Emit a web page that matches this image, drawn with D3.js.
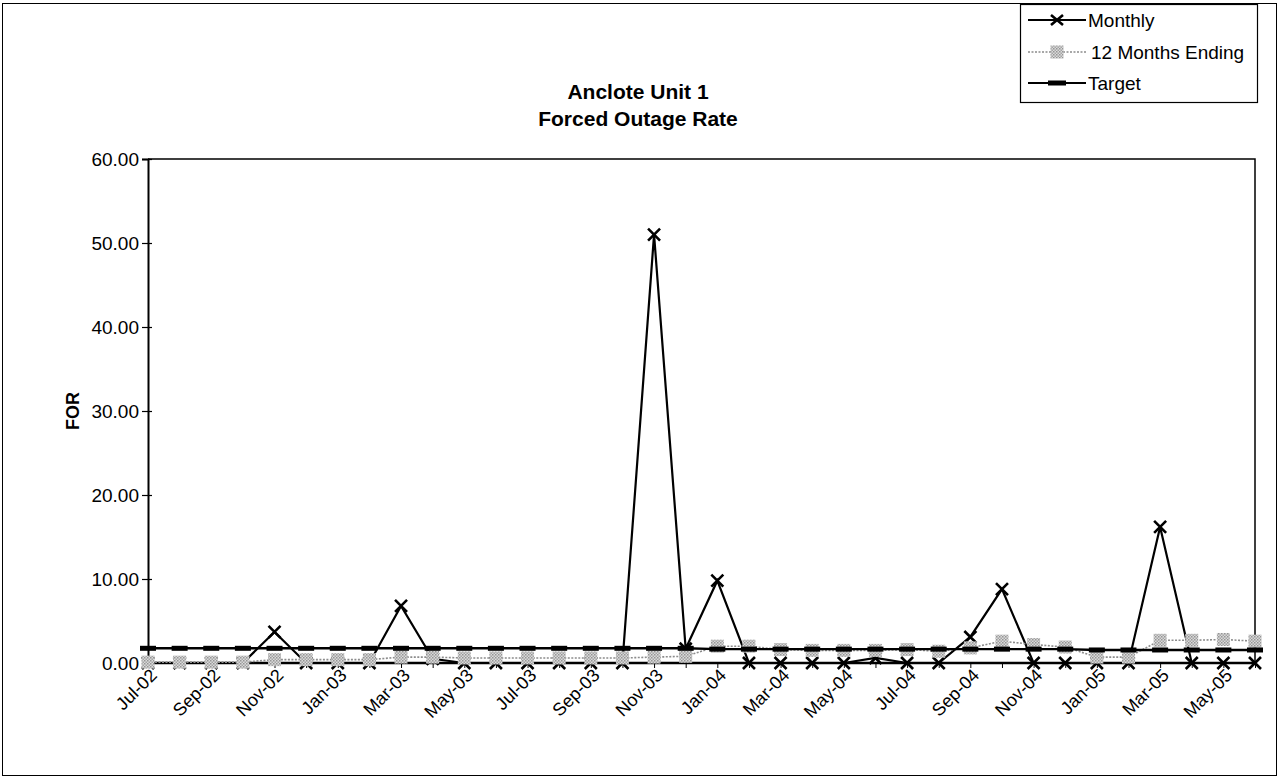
<!DOCTYPE html>
<html>
<head>
<meta charset="utf-8">
<script src="https://cdn.jsdelivr.net/npm/d3@7/dist/d3.min.js"></script>
<style>
  html, body { margin: 0; padding: 0; background: #fff; }
  svg { display: block; font-family: "Liberation Sans", Arial, sans-serif; }
</style>
</head>
<body>
<svg id="chart" width="1279" height="778"></svg>
<script>
const months = ["Jul-02","Aug-02","Sep-02","Oct-02","Nov-02","Dec-02",
  "Jan-03","Feb-03","Mar-03","Apr-03","May-03","Jun-03","Jul-03","Aug-03","Sep-03","Oct-03","Nov-03","Dec-03",
  "Jan-04","Feb-04","Mar-04","Apr-04","May-04","Jun-04","Jul-04","Aug-04","Sep-04","Oct-04","Nov-04","Dec-04",
  "Jan-05","Feb-05","Mar-05","Apr-05","May-05","Jun-05"];
const monthly = [0,0,0,0,3.7,0, 0,0,6.8,0.5,0,0,0,0,0,0,51.0,1.7, 9.8,0,0,0,0,0.6,0,0,3.1,8.8,0,0, 0,0,16.2,0,0,0];
const twelveMonths = [0.1,0.1,0.1,0.1,0.4,0.4, 0.4,0.4,0.7,0.7,0.6,0.6,0.6,0.6,0.6,0.6,0.7,0.8, 2.0,2.0,1.6,1.5,1.5,1.5,1.6,1.4,1.8,2.6,2.2,1.9, 0.7,0.7,2.7,2.7,2.8,2.6];
const target = [1.75,1.75,1.75,1.75,1.75,1.75, 1.75,1.75,1.75,1.75,1.75,1.75,1.75,1.75,1.75,1.75,1.75,1.75, 1.65,1.65,1.65,1.65,1.65,1.65,1.65,1.65,1.65,1.65,1.65,1.65, 1.55,1.55,1.55,1.55,1.55,1.55];
const yTicks = [0,10,20,30,40,50,60];
const xLabels = months.filter((m,i) => i % 2 === 0);
const titleLines = ["Anclote Unit 1", "Forced Outage Rate"];
const seriesNames = ["Monthly", "12 Months Ending", "Target"];

const svg = d3.select("#chart");
const L = 148, R = 1255, T = 159, B = 663;
const FONT = "Liberation Sans, Arial, sans-serif";

const x = d3.scalePoint().domain(months).range([L, R]);
const y = d3.scaleLinear().domain([0, 60]).range([B, T]);

// outer frame
svg.append("rect").attr("x", 2.5).attr("y", 3.5).attr("width", 1274).attr("height", 772)
  .attr("fill", "none").attr("stroke", "#000").attr("stroke-width", 1);

// title
svg.append("g").selectAll("text").data(titleLines).join("text")
  .attr("x", 638).attr("y", (d,i) => 99 + i * 27)
  .attr("text-anchor", "middle").attr("font-size", 21).attr("font-weight", "bold")
  .text(d => d);

// plot border (top, right)
svg.append("path")
  .attr("d", `M${L},${T}H${R}V${B}`)
  .attr("fill", "none").attr("stroke", "#000").attr("stroke-width", 1.5);

// y axis
const yAxis = d3.axisLeft(y).tickValues(yTicks).tickSize(6).tickFormat(d3.format(".2f"));
const yg = svg.append("g").attr("transform", `translate(${L},0)`).call(yAxis);
yg.select(".domain").attr("stroke-width", 2);
yg.selectAll(".tick line").attr("stroke-width", 1.2).attr("x2", 4).attr("x1", -6);
yg.selectAll(".tick text").attr("font-size", 19).attr("x", -9).attr("dy", "0.35em")
  .attr("font-family", FONT).attr("fill", "#000");

// y label
svg.append("text").attr("transform", "translate(79,411) rotate(-90)")
  .attr("text-anchor", "middle").attr("font-size", 18).attr("font-weight", "bold").text("FOR");

// x axis
const xAxis = d3.axisBottom(x).tickSize(5).tickFormat(d => xLabels.includes(d) ? d : "");
const xg = svg.append("g").attr("transform", `translate(0,${B})`).call(xAxis);
xg.select(".domain").attr("stroke-width", 2.5).attr("d", `M${L},0H${R}`);
xg.selectAll(".tick text")
  .attr("font-size", 18).attr("font-family", FONT).attr("fill", "#000")
  .attr("text-anchor", "end").attr("transform", "translate(5,9) rotate(-45)").attr("dy", "0.35em").attr("y", 0).attr("x", 0);

// Monthly series
const line = d3.line().x((d,i) => x(months[i])).y(d => y(d));
svg.append("path").datum(monthly).attr("d", line)
  .attr("fill", "none").attr("stroke", "#000").attr("stroke-width", 2.2);
const xm = 6;
svg.append("g").selectAll("path").data(monthly).join("path")
  .attr("d", (d,i) => { const cx = x(months[i]), cy = y(d);
    return `M${cx-xm},${cy-xm}L${cx+xm},${cy+xm}M${cx-xm},${cy+xm}L${cx+xm},${cy-xm}`; })
  .attr("stroke", "#000").attr("stroke-width", 2.6).attr("fill", "none");

// halftone pattern for squares
const defs = svg.append("defs");
const pat = defs.append("pattern").attr("id", "dots").attr("width", 3).attr("height", 3)
  .attr("patternUnits", "userSpaceOnUse");
pat.append("rect").attr("width", 3).attr("height", 3).attr("fill", "#dadada");
pat.append("rect").attr("width", 1.5).attr("height", 1.5).attr("fill", "#959595");
pat.append("rect").attr("x", 1.5).attr("y", 1.5).attr("width", 1.5).attr("height", 1.5).attr("fill", "#a5a5a5");

// 12 Months Ending
svg.append("path").datum(twelveMonths).attr("d", line)
  .attr("fill", "none").attr("stroke", "#8c8c8c").attr("stroke-width", 1.6).attr("stroke-dasharray", "2,1.5");
const sq = 6.5;
svg.append("g").selectAll("rect").data(twelveMonths).join("rect")
  .attr("x", (d,i) => x(months[i]) - sq).attr("y", d => y(d) - sq)
  .attr("width", sq*2).attr("height", sq*2).attr("fill", "url(#dots)");

// Target
svg.append("path").datum(target).attr("d", line)
  .attr("fill", "none").attr("stroke", "#000").attr("stroke-width", 2.4);
svg.append("g").selectAll("rect").data(target).join("rect")
  .attr("x", (d,i) => x(months[i]) - 8).attr("y", d => y(d) - 2.5)
  .attr("width", 16).attr("height", 5).attr("fill", "#000");

// Legend
const lg = svg.append("g");
lg.append("rect").attr("x", 1020.5).attr("y", 4.5).attr("width", 237).attr("height", 98)
  .attr("fill", "#fff").attr("stroke", "#000").attr("stroke-width", 1.2);
const rows = [20, 52, 83];
const lx1 = 1028, lx2 = 1086, lc = 1057;
// Monthly
lg.append("line").attr("x1", lx1).attr("x2", lx2).attr("y1", rows[0]).attr("y2", rows[0]).attr("stroke", "#000").attr("stroke-width", 2);
lg.append("path").attr("d", `M${lc-xm},${rows[0]-xm+1}L${lc+xm},${rows[0]+xm-1}M${lc-xm},${rows[0]+xm-1}L${lc+xm},${rows[0]-xm+1}`)
  .attr("stroke", "#000").attr("stroke-width", 2.6);
// 12 months
lg.append("line").attr("x1", lx1).attr("x2", lx2).attr("y1", rows[1]).attr("y2", rows[1]).attr("stroke", "#8c8c8c").attr("stroke-width", 1.6).attr("stroke-dasharray", "2,1.5");
lg.append("rect").attr("x", lc-sq).attr("y", rows[1]-sq).attr("width", sq*2).attr("height", sq*2).attr("fill", "url(#dots)");
// Target
lg.append("line").attr("x1", lx1).attr("x2", lx2).attr("y1", rows[2]).attr("y2", rows[2]).attr("stroke", "#000").attr("stroke-width", 2.2);
lg.append("rect").attr("x", lc-9).attr("y", rows[2]-2.5).attr("width", 18).attr("height", 5).attr("fill", "#000");
lg.selectAll("text").data(seriesNames).join("text")
  .attr("x", (d,i) => i === 1 ? 1091 : 1088).attr("y", (d,i) => rows[i]).attr("dy", "0.35em")
  .attr("font-size", 19).text(d => d);
</script>
</body>
</html>
